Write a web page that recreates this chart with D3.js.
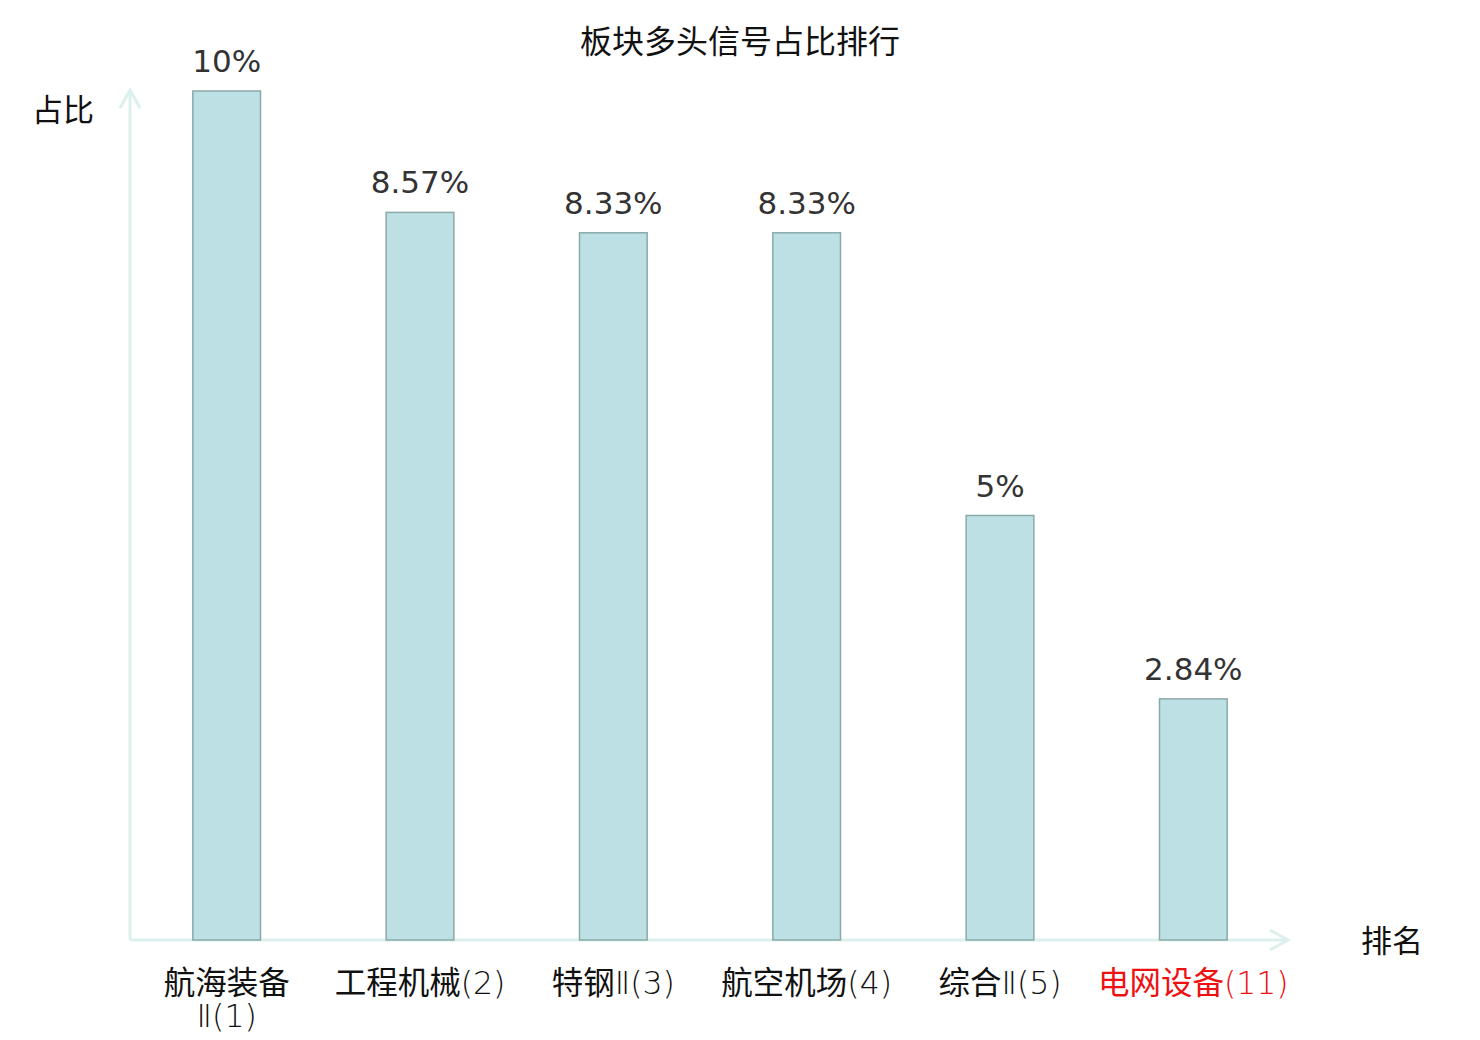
<!DOCTYPE html>
<html>
<head>
<meta charset="utf-8">
<script src="https://cdn.jsdelivr.net/npm/d3@7"></script>
<style>
  body { margin: 0; background: #fff; }
  svg { display: block; }
</style>
</head>
<body>
<div id="chart"></div>
<script>
/* DATA */
const categories = ["航海装备Ⅱ(1)", "工程机械(2)", "特钢Ⅱ(3)", "航空机场(4)", "综合Ⅱ(5)", "电网设备(11)"];
const labelLines = [["航海装备", "Ⅱ(1)"], ["工程机械(2)"], ["特钢Ⅱ(3)"], ["航空机场(4)"], ["综合Ⅱ(5)"], ["电网设备(11)"]];
const values = [10, 8.57, 8.33, 8.33, 5, 2.84];
const valueLabels = ["10%", "8.57%", "8.33%", "8.33%", "5%", "2.84%"];
const highlighted = ["电网设备(11)"];

/* CONSTANTS */
const width = 1480, height = 1040;
const x0 = 130, x1 = 1290, y0 = 940, yTop = 91;
const cjk = "'Noto Sans CJK SC', 'Noto Sans', sans-serif";
const thin = "'DejaVu Sans', sans-serif";

const svg = d3.select("#chart").append("svg")
  .attr("width", width)
  .attr("height", height);

const x = d3.scaleBand()
  .domain(categories)
  .range([x0, x1]);

const y = d3.scaleLinear()
  .domain([0, 10])
  .range([y0, yTop]);

const barW = x.bandwidth() * 0.35;
const cx = c => x(c) + x.bandwidth() / 2;

// title
svg.append("text")
  .attr("x", 740).attr("y", 53)
  .attr("text-anchor", "middle")
  .attr("font-family", cjk)
  .attr("font-size", 32)
  .attr("fill", "#111")
  .text("板块多头信号占比排行");

// axes with open arrow heads
const axes = svg.append("g")
  .attr("stroke", "#dcf1ee")
  .attr("stroke-width", 3)
  .attr("fill", "none");
axes.append("line").attr("x1", x0).attr("y1", y0).attr("x2", x0).attr("y2", 90);
axes.append("path").attr("d", `M${x0 - 10},108 L${x0},90 L${x0 + 10},108`);
axes.append("line").attr("x1", x0).attr("y1", y0).attr("x2", 1288).attr("y2", y0);
axes.append("path").attr("d", `M1270,${y0 - 10} L1288,${y0} L1270,${y0 + 10}`);

svg.append("text")
  .attr("x", 32).attr("y", 121)
  .attr("font-family", cjk)
  .attr("font-size", 31)
  .attr("fill", "#111")
  .text("占比");

svg.append("text")
  .attr("x", 1361).attr("y", 952)
  .attr("font-family", cjk)
  .attr("font-size", 31)
  .attr("fill", "#111")
  .text("排名");

// bars
svg.selectAll("rect.bar")
  .data(values)
  .join("rect")
  .attr("class", "bar")
  .attr("x", (d, i) => cx(categories[i]) - barW / 2)
  .attr("y", d => y(d))
  .attr("width", barW)
  .attr("height", d => y0 - y(d))
  .attr("fill", "#bce0e3")
  .attr("stroke", "#8aaaa9")
  .attr("stroke-width", 1.5);

// value labels
svg.selectAll("text.val")
  .data(values)
  .join("text")
  .attr("class", "val")
  .attr("x", (d, i) => cx(categories[i]))
  .attr("y", d => y(d) - 19)
  .attr("text-anchor", "middle")
  .attr("font-family", thin)
  .attr("font-size", 31)
  .attr("fill", "#333")
  .text((d, i) => valueLabels[i]);

// category labels: CJK runs regular, the rest thin
const splitRuns = s => s.match(/[\u4e00-\u9fff]+|[^\u4e00-\u9fff]+/g);

const catG = svg.selectAll("g.cat")
  .data(categories)
  .join("g")
  .attr("class", "cat")
  .attr("fill", d => highlighted.includes(d) ? "#ee1111" : "#111");

catG.selectAll("text")
  .data((d, i) => labelLines[i].map((t, j) => ({ t, c: d, j })))
  .join("text")
  .attr("x", d => cx(d.c))
  .attr("y", d => 994 + d.j * 33)
  .attr("text-anchor", "middle")
  .attr("font-size", 31.5)
  .selectAll("tspan")
  .data(d => splitRuns(d.t))
  .join("tspan")
  .attr("font-family", r => /[\u4e00-\u9fff]/.test(r) ? cjk : thin)
  .attr("font-weight", r => /[\u4e00-\u9fff]/.test(r) ? 400 : 200)
  .text(r => r);
</script>
</body>
</html>
